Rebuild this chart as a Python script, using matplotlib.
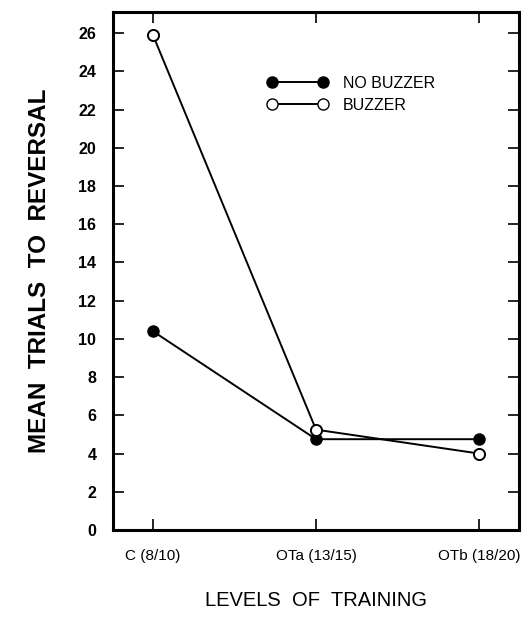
import matplotlib
matplotlib.use("Agg")
import matplotlib.pyplot as plt
from matplotlib.lines import Line2D

levels = ["C (8/10)", "OTa (13/15)", "OTb (18/20)"]
no_buzzer = [10.4, 4.75, 4.75]
buzzer = [25.9, 5.25, 4.0]
y_ticks = list(range(0, 27, 2))

plt.rcParams['font.family'] = ['Liberation Sans', 'DejaVu Sans']

fig = plt.figure(figsize=(5.28, 6.36), dpi=100)
ax = fig.add_axes([0.214, 0.1667, 0.769, 0.8143])

x = list(range(len(levels)))
ax.plot(x, no_buzzer, color="black", linewidth=1.4, marker="o", markersize=8,
        markerfacecolor="black", markeredgecolor="black")
ax.plot(x, buzzer, color="black", linewidth=1.4, marker="o", markersize=8,
        markerfacecolor="white", markeredgecolor="black", markeredgewidth=1.4)

ax.set_xlim(-0.245, 2.245)
ax.set_ylim(0, 27.1)
ax.set_xticks(x)
ax.set_xticklabels(levels, fontsize=11)
ax.set_yticks(y_ticks)
ax.set_yticklabels([str(v) for v in y_ticks], fontsize=11.5, fontweight="bold")

ax.tick_params(axis="both", direction="in", length=8, width=1.2, top=True, right=True)
ax.tick_params(axis="x", pad=14)
ax.tick_params(axis="y", pad=12)
for s in ax.spines.values():
    s.set_linewidth(2.2)

ax.set_ylabel("MEAN  TRIALS  TO  REVERSAL", fontsize=17.5, fontweight="bold", labelpad=20)
ax.set_xlabel("LEVELS  OF  TRAINING", fontsize=14.5, labelpad=20)

handles = [
    Line2D([], [], color="black", linewidth=1.4, marker="o", markersize=8,
           markerfacecolor="black", markeredgecolor="black"),
    Line2D([], [], color="black", linewidth=1.4, marker="o", markersize=8,
           markerfacecolor="white", markeredgecolor="black"),
]
leg = ax.legend(handles, ["NO BUZZER", "BUZZER"], loc="upper left",
                bbox_to_anchor=(0.345, 0.905), frameon=False, fontsize=11.5,
                handlelength=3.8, numpoints=2, labelspacing=0.45, handletextpad=0.9)

fig.savefig("out.png", dpi=100)
